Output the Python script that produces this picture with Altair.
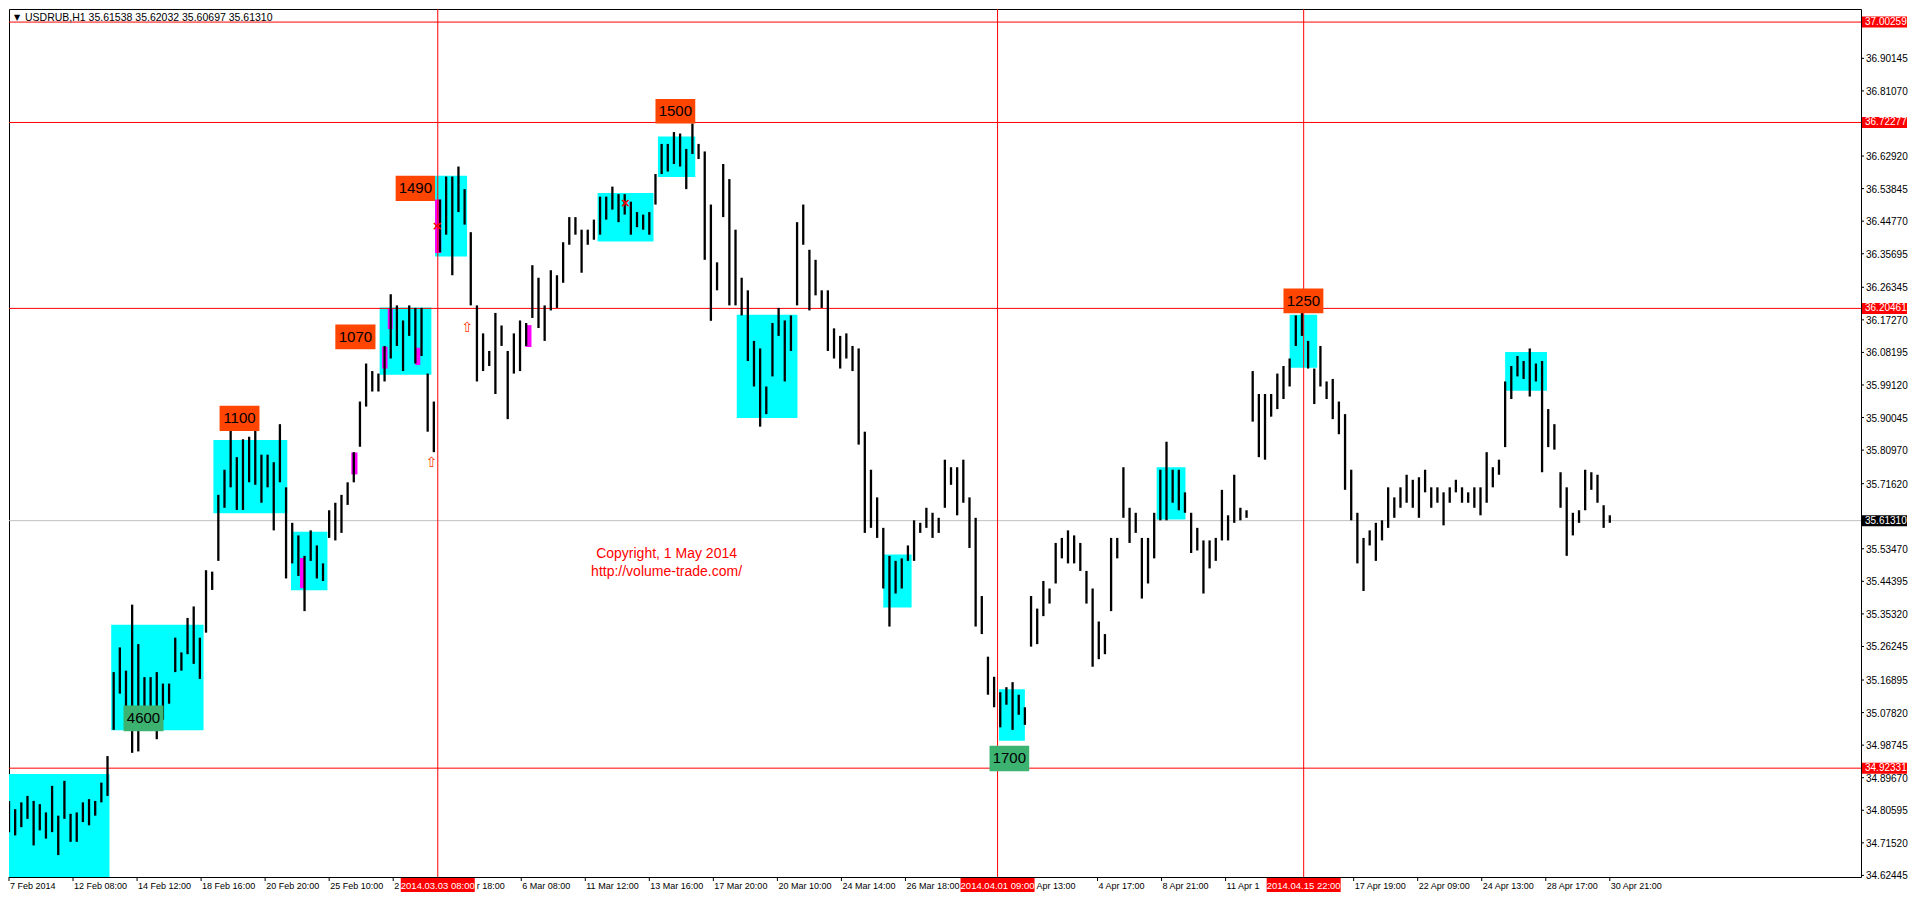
import altair as alt
import pandas as pd

# ---------------- layout constants ----------------
W, H = 1852, 868
X_DOMAIN = [0, 1504]
Y_DOMAIN = [34.620, 37.039]
FONT = "Liberation Sans"
BAR_STEP = 5  # bar index step between sampled bars

# ---------------- price bars (sampled, high / low) ----------------
highs = [34.832, 34.809, 34.828, 34.846, 34.832, 34.823, 34.800, 34.874, 34.791, 34.888,
         34.796, 34.800, 34.828, 34.837, 34.832, 34.883, 34.957, 35.191, 35.260, 35.195,
         35.379, 35.269, 35.177, 35.177, 35.191, 35.159, 35.159, 35.287, 35.246, 35.342,
         35.374, 35.287, 35.475, 35.471, 35.685, 35.755, 35.868, 35.790, 35.840, 35.847,
         35.868, 35.797, 35.797, 35.776, 35.882, 35.706, 35.607, 35.572, 35.515, 35.586,
         35.544, 35.494, 35.642, 35.663, 35.685, 35.720, 35.804, 35.945, 36.051, 36.030,
         36.023, 36.100, 36.244, 36.213, 36.171, 36.213, 36.206, 36.206, 36.023, 35.945,
         36.508, 36.572, 36.572, 36.600, 36.537, 36.417, 36.213, 36.135, 36.086, 36.192,
         36.157, 36.086, 36.135, 36.171, 36.164, 36.325, 36.290, 36.213, 36.311, 36.297,
         36.389, 36.459, 36.459, 36.424, 36.424, 36.452, 36.516, 36.516, 36.544, 36.523,
         36.523, 36.502, 36.473, 36.466, 36.473, 36.579, 36.663, 36.663, 36.696, 36.692,
         36.649, 36.720, 36.663, 36.642, 36.494, 36.333, 36.607, 36.565, 36.424, 36.290,
         36.255, 36.114, 36.093, 35.987, 36.164, 36.206, 36.171, 36.185, 36.445, 36.494,
         36.368, 36.340, 36.255, 36.255, 36.149, 36.128, 36.135, 36.100, 36.093, 35.861,
         35.755, 35.678, 35.593, 35.515, 35.501, 35.508, 35.544, 35.614, 35.607, 35.649,
         35.635, 35.621, 35.783, 35.762, 35.762, 35.783, 35.678, 35.621, 35.403, 35.234,
         35.178, 35.135, 35.149, 35.163, 35.128, 35.093, 35.403, 35.368, 35.445, 35.424,
         35.551, 35.565, 35.586, 35.572, 35.551, 35.473, 35.424, 35.332, 35.297, 35.565,
         35.565, 35.762, 35.649, 35.635, 35.565, 35.565, 35.635, 35.755, 35.833, 35.755,
         35.755, 35.692, 35.635, 35.593, 35.558, 35.558, 35.565, 35.699, 35.628, 35.741,
         35.649, 35.642, 36.030, 35.966, 35.966, 35.966, 36.023, 36.044, 36.065, 36.185,
         36.192, 36.114, 36.037, 36.100, 36.001, 36.008, 35.945, 35.910, 35.755, 35.635,
         35.565, 35.586, 35.607, 35.614, 35.706, 35.678, 35.706, 35.741, 35.727, 35.734,
         35.755, 35.706, 35.706, 35.692, 35.706, 35.727, 35.706, 35.692, 35.706, 35.706,
         35.804, 35.762, 35.783, 36.001, 36.044, 36.072, 36.058, 36.093, 36.051, 36.058,
         35.924, 35.882, 35.748, 35.706, 35.635, 35.642, 35.755, 35.748, 35.741, 35.656,
         35.628]
lows = [34.745, 34.736, 34.759, 34.782, 34.708, 34.750, 34.727, 34.745, 34.681, 34.782,
        34.718, 34.718, 34.773, 34.764, 34.791, 34.828, 34.846, 35.030, 35.131, 35.094,
        34.966, 34.970, 35.039, 35.030, 35.004, 35.058, 35.103, 35.191, 35.195, 35.241,
        35.214, 35.172, 35.301, 35.420, 35.501, 35.649, 35.706, 35.643, 35.643, 35.720,
        35.713, 35.663, 35.706, 35.586, 35.720, 35.452, 35.494, 35.459, 35.361, 35.501,
        35.452, 35.445, 35.565, 35.558, 35.579, 35.657, 35.720, 35.819, 35.931, 35.973,
        35.973, 36.001, 36.065, 36.100, 36.030, 36.128, 36.051, 36.072, 35.861, 35.804,
        36.361, 36.410, 36.297, 36.473, 36.438, 36.213, 36.001, 36.030, 36.044, 35.966,
        36.100, 35.896, 36.023, 36.030, 36.100, 36.178, 36.150, 36.114, 36.199, 36.206,
        36.276, 36.382, 36.410, 36.304, 36.382, 36.396, 36.410, 36.452, 36.480, 36.445,
        36.466, 36.410, 36.431, 36.424, 36.410, 36.494, 36.579, 36.586, 36.607, 36.600,
        36.537, 36.635, 36.621, 36.340, 36.170, 36.255, 36.459, 36.213, 36.213, 36.185,
        36.058, 35.987, 35.875, 35.910, 36.015, 36.128, 36.001, 36.086, 36.213, 36.382,
        36.199, 36.241, 36.206, 36.086, 36.065, 36.037, 36.065, 36.030, 35.825, 35.579,
        35.593, 35.565, 35.424, 35.318, 35.410, 35.424, 35.501, 35.501, 35.579, 35.593,
        35.565, 35.579, 35.649, 35.713, 35.628, 35.663, 35.537, 35.318, 35.297, 35.128,
        35.093, 35.037, 35.100, 35.030, 35.072, 35.044, 35.262, 35.269, 35.347, 35.382,
        35.438, 35.508, 35.494, 35.494, 35.473, 35.382, 35.206, 35.227, 35.241, 35.361,
        35.508, 35.621, 35.551, 35.579, 35.396, 35.438, 35.508, 35.614, 35.614, 35.663,
        35.642, 35.635, 35.523, 35.530, 35.410, 35.480, 35.501, 35.558, 35.558, 35.607,
        35.614, 35.621, 35.889, 35.790, 35.783, 35.903, 35.924, 35.952, 35.987, 36.100,
        36.128, 36.037, 35.938, 35.987, 35.952, 35.896, 35.854, 35.699, 35.614, 35.494,
        35.417, 35.544, 35.501, 35.558, 35.593, 35.621, 35.649, 35.663, 35.649, 35.621,
        35.692, 35.649, 35.663, 35.600, 35.663, 35.692, 35.663, 35.663, 35.649, 35.628,
        35.663, 35.706, 35.741, 35.818, 35.952, 36.015, 36.008, 35.959, 36.001, 35.748,
        35.818, 35.811, 35.649, 35.515, 35.572, 35.607, 35.642, 35.699, 35.663, 35.593,
        35.607]

# ---------------- cyan zones ----------------
box_x0 = [0, 83, 166, 229, 301, 346, 478, 527, 591, 710, 804, 932, 1040, 1215]
box_x1 = [81.6, 158, 226, 258.6, 343, 372, 523.4, 557.3, 640.3, 733, 825, 955.4, 1062.4, 1249]
box_top = [34.907, 35.323, 35.838, 35.582, 36.207, 36.574, 36.526, 36.684, 36.187, 35.519,
           35.143, 35.762, 36.187, 36.083]
box_bot = [34.600, 35.029, 35.634, 35.419, 36.020, 36.349, 36.391, 36.571, 35.899, 35.371,
           35.000, 35.616, 36.039, 35.975]

# ---------------- magenta bars ----------------
mag_x0 = [236.3, 278, 303, 307.6, 330, 346, 419.4]
mag_x1 = [240.2, 283, 307.4, 311.6, 334, 351, 424.3]
mag_top = [35.509, 35.803, 36.098, 36.205, 36.095, 36.508, 36.158]
mag_bot = [35.425, 35.742, 36.037, 36.147, 36.047, 36.359, 36.097]

# ---------------- volume labels ----------------
lab_text = ["4600", "1100", "1070", "1490", "1500", "1700", "1250"]
lab_x0 = [93, 171, 265, 314, 525, 796.3, 1035]
lab_x1 = [125.5, 203.4, 297.6, 346, 557.3, 828.5, 1067.4]
lab_top = [35.098, 35.933, 36.160, 36.574, 36.788, 34.986, 36.260]
lab_bot = [35.026, 35.863, 36.091, 36.504, 36.720, 34.915, 36.191]
lab_color = ["#3CB371", "#FF4500", "#FF4500", "#FF4500", "#FF4500", "#3CB371", "#FF4500"]

# ---------------- lines ----------------
hline_price = [37.00259, 36.72277, 36.20461, 34.92331]
last_price = 35.61310
vline_idx = [348.2, 802.8, 1051.4]
vline_text = ["2014.03.03 08:00", "2014.04.01 09:00", "2014.04.15 22:00"]

# ---------------- arrows / crosses ----------------
arrow_idx = [343, 372]
arrow_price = [35.775, 36.150]
cross_idx = [347.7, 500.6]
cross_price = [36.433, 36.497]

# ---------------- copyright ----------------
copy_text = ["Copyright, 1 May 2014", "http://volume-trade.com/"]
copy_idx = [534, 534]
copy_price = [35.521, 35.470]

# ---------------- axes ----------------
# time labels as far as they are visible (parts hidden under the red date boxes left out)
x_tick_labels = ["7 Feb 2014", "12 Feb 08:00", "14 Feb 12:00", "18 Feb 16:00", "20 Feb 20:00",
                 "25 Feb 10:00", "2", "3 Mar 18:00", "6 Mar 08:00", "11 Mar 12:00",
                 "13 Mar 16:00", "17 Mar 20:00", "20 Mar 10:00", "24 Mar 14:00", "26 Mar 18:00",
                 "", "2 Apr 13:00", "4 Apr 17:00", "8 Apr 21:00", "11 Apr 1",
                 "", "17 Apr 19:00", "22 Apr 09:00", "24 Apr 13:00", "28 Apr 17:00",
                 "30 Apr 21:00"]
x_tick_step = 52
# labels whose beginning is hidden under a red date box: (tick number, visible rest)
x_partial = [(7, "r 18:00"), (16, "Apr 13:00")]
y_ticks = [36.90145, 36.81070, 36.62920, 36.53845, 36.44770, 36.35695,
           36.26345, 36.17270, 36.08195, 35.99120, 35.90045, 35.80970, 35.71620,
           35.53470, 35.44395, 35.35320, 35.26245, 35.16895, 35.07820, 34.98745, 34.89670,
           34.80595, 34.71520, 34.62445]
header = "USDRUB,H1  35.61538 35.62032 35.60697 35.61310"

# =====================================================================
xs = alt.Scale(domain=X_DOMAIN, nice=False, zero=False)
ys = alt.Scale(domain=Y_DOMAIN, nice=False, zero=False)


def X(f):
    return alt.X(f, scale=xs, axis=None)


def Y(f):
    return alt.Y(f, scale=ys, axis=None)


bars = pd.DataFrame({"idx": [i * BAR_STEP for i in range(len(highs))], "high": highs, "low": lows})
boxes = pd.DataFrame({"x0": box_x0, "x1": box_x1, "top": box_top, "bot": box_bot})
mags = pd.DataFrame({"x0": mag_x0, "x1": mag_x1, "top": mag_top, "bot": mag_bot})
labs = pd.DataFrame({"t": lab_text, "x0": lab_x0, "x1": lab_x1, "top": lab_top, "bot": lab_bot,
                     "c": lab_color})
hl = pd.DataFrame({"p": hline_price})
vl = pd.DataFrame({"idx": vline_idx, "t": vline_text})
arr = pd.DataFrame({"idx": arrow_idx, "p": arrow_price})
crs = pd.DataFrame({"idx": cross_idx, "p": cross_price})
cpy = pd.DataFrame({"t": copy_text, "idx": copy_idx, "p": copy_price})
vals = pd.DataFrame({"p": hline_price + [last_price],
                     "c": ["#FF0000"] * len(hline_price) + ["#000000"]})
vals["t"] = [f"{v:.5f}" for v in vals["p"]]

partial_ids = {k for k, _ in x_partial}
xt_all = pd.DataFrame({"idx": [x_tick_step * k for k in range(len(x_tick_labels))]})
xt = pd.DataFrame({"idx": [x_tick_step * k for k, s in enumerate(x_tick_labels)
                           if s and k not in partial_ids],
                   "t": [s for k, s in enumerate(x_tick_labels) if s and k not in partial_ids]})
xp = pd.DataFrame({"idx": [x_tick_step * k for k, _ in x_partial], "t": [s for _, s in x_partial]})
yt = pd.DataFrame({"p": y_ticks, "t": [f"{v:.5f}" for v in y_ticks]})

DATE_HALF_PX = 37
half_idx = DATE_HALF_PX * (X_DOMAIN[1] - X_DOMAIN[0]) / W

# ----- manual axes -----
x_tick_marks = alt.Chart(xt_all).mark_rule(color="black", strokeWidth=1).encode(
    x=X("idx:Q"), y=alt.value(H), y2=alt.value(H + 4))
x_tick_text = alt.Chart(xt).mark_text(font=FONT, fontSize=9, color="black", align="left",
                                      baseline="middle", dx=1).encode(
    x=X("idx:Q"), y=alt.value(H + 9), text="t:N")
# rest of the partly hidden labels: starts just right of the red date box covering them
x_part_text = alt.Chart(xp).transform_calculate(
    xpos=f"datum.idx < 500 ? {vline_idx[0]} + {half_idx} : {vline_idx[1]} + {half_idx}").mark_text(
    font=FONT, fontSize=9, color="black", align="left", baseline="middle", dx=2).encode(
    x=X("xpos:Q"), y=alt.value(H + 9), text="t:N")
y_tick_marks = alt.Chart(yt).mark_rule(color="black", strokeWidth=1).encode(
    y=Y("p:Q"), x=alt.value(W), x2=alt.value(W + 3))
y_tick_text = alt.Chart(yt).mark_text(font=FONT, fontSize=10, color="black", align="left",
                                      baseline="middle", dy=1).encode(
    y=Y("p:Q"), x=alt.value(W + 5), text="t:N")

zones = alt.Chart(boxes).mark_rect(color="#00FFFF", clip=True).encode(
    x=X("x0:Q"), x2="x1:Q", y=Y("top:Q"), y2="bot:Q")

magenta = alt.Chart(mags).mark_rect(color="#FF00FF", clip=True).encode(
    x=X("x0:Q"), x2="x1:Q", y=Y("top:Q"), y2="bot:Q")

hlines = alt.Chart(hl).mark_rule(color="#FF0000", strokeWidth=1).encode(y=Y("p:Q"))

gline = alt.Chart(pd.DataFrame({"p": [last_price]})).mark_rule(color="#C0C0C0", strokeWidth=1).encode(
    y=Y("p:Q"))

vlines = alt.Chart(vl).mark_rule(color="#FF0000", strokeWidth=1).encode(x=X("idx:Q"))

ohlc = alt.Chart(bars).mark_rule(color="black", strokeWidth=2.3, clip=True).encode(
    x=X("idx:Q"), y=Y("low:Q"), y2="high:Q")

lab_rect = alt.Chart(labs).mark_rect().encode(
    x=X("x0:Q"), x2="x1:Q", y=Y("top:Q"), y2="bot:Q", color=alt.Color("c:N", scale=None))

lab_txt = alt.Chart(labs).transform_calculate(
    xm="(datum.x0 + datum.x1) / 2", ym="(datum.top + datum.bot) / 2").mark_text(
    font=FONT, fontSize=15, color="black", align="center", baseline="middle").encode(
    x=X("xm:Q"), y=Y("ym:Q"), text="t:N")

arrows = alt.Chart(arr).mark_text(text="⇧", font="DejaVu Sans", fontSize=14, color="#FF3300",
                                  baseline="middle").encode(x=X("idx:Q"), y=Y("p:Q"))

crosses = alt.Chart(crs).mark_text(text="×", font="DejaVu Sans", fontSize=13, fontWeight="bold",
                                   color="#FF0000", baseline="middle").encode(x=X("idx:Q"), y=Y("p:Q"))

copyright_ = alt.Chart(cpy).mark_text(font=FONT, fontSize=14, color="#FF0000", baseline="middle").encode(
    x=X("idx:Q"), y=Y("p:Q"), text="t:N")

head_tri = alt.Chart(pd.DataFrame({"t": ["▼"]})).mark_text(
    font="DejaVu Sans", fontSize=8, color="black", baseline="middle").encode(
    x=alt.value(8), y=alt.value(9), text="t:N")
head_txt = alt.Chart(pd.DataFrame({"t": [header]})).mark_text(
    font=FONT, fontSize=10.5, color="black", align="left", baseline="middle").encode(
    x=alt.value(16), y=alt.value(9), text="t:N")

half_px = 5.5 * (Y_DOMAIN[1] - Y_DOMAIN[0]) / H
val_rect = alt.Chart(vals).transform_calculate(
    t0=f"datum.p + {half_px}", b0=f"datum.p - {half_px}").mark_rect().encode(
    x=alt.value(W + 1), x2=alt.value(W + 46),
    y=Y("t0:Q"), y2="b0:Q", color=alt.Color("c:N", scale=None))
val_txt = alt.Chart(vals).mark_text(font=FONT, fontSize=10, color="white", align="left",
                                    baseline="middle").encode(
    x=alt.value(W + 4), y=Y("p:Q"), text="t:N")

date_rect = alt.Chart(vl).transform_calculate(
    l0=f"datum.idx - {half_idx}", r0=f"datum.idx + {half_idx}").mark_rect(color="#FF0000").encode(
    x=X("l0:Q"), x2="r0:Q", y=alt.value(H + 1), y2=alt.value(H + 15))
date_txt = alt.Chart(vl).mark_text(font=FONT, fontSize=9.5, color="white", align="center",
                                   baseline="middle").encode(
    x=X("idx:Q"), y=alt.value(H + 8.5), text="t:N")

chart = alt.layer(
    zones, magenta, hlines, gline, vlines, ohlc, lab_rect, lab_txt, arrows, crosses,
    copyright_, head_tri, head_txt,
    x_tick_marks, x_tick_text, x_part_text, y_tick_marks, y_tick_text,
    val_rect, val_txt, date_rect, date_txt
).properties(
    width=W, height=H, padding=0, background="white"
).configure_view(stroke="black", strokeWidth=1)

chart.save("out.html", embed_options={"renderer": "svg", "actions": False})
